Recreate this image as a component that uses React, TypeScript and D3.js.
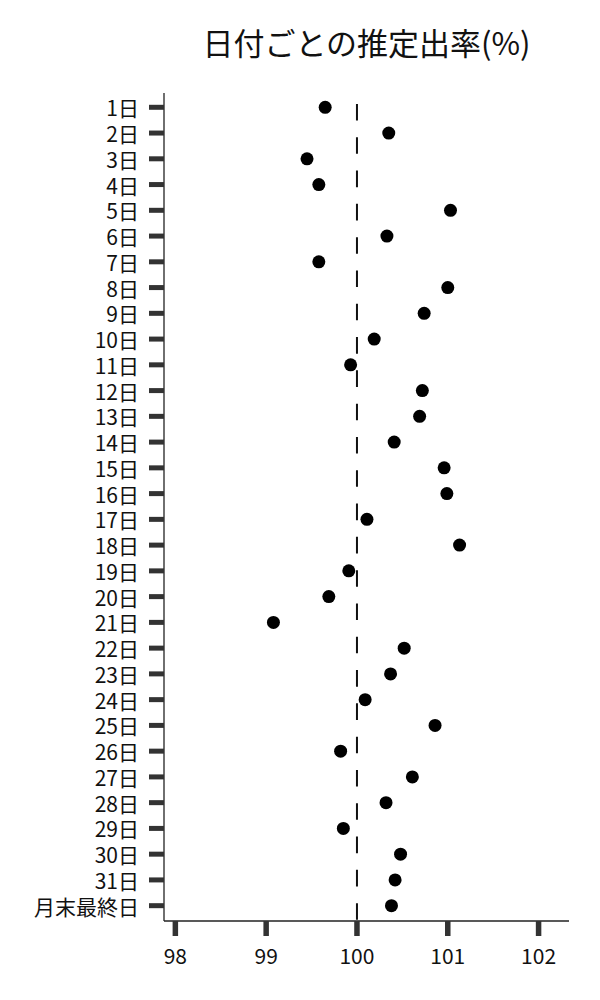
import React from "react";
import * as d3 from "d3";

const categories: string[] = [
  "1日", "2日", "3日", "4日", "5日", "6日", "7日", "8日", "9日", "10日",
  "11日", "12日", "13日", "14日", "15日", "16日", "17日", "18日", "19日", "20日",
  "21日", "22日", "23日", "24日", "25日", "26日", "27日", "28日", "29日", "30日",
  "31日", "月末最終日",
];

const values: number[] = [
  99.65, 100.35, 99.45, 99.58, 101.03, 100.33, 99.58, 101.0, 100.74, 100.19,
  99.93, 100.72, 100.69, 100.41, 100.96, 100.99, 100.11, 101.13, 99.91, 99.69,
  99.08, 100.52, 100.37, 100.09, 100.86, 99.82, 100.61, 100.32, 99.85, 100.48,
  100.42, 100.38,
];

const xTicks: number[] = [98, 99, 100, 101, 102];
const referenceValue = 100;
const title = "日付ごとの推定出率(%)";

const FONT = "'Noto Sans CJK JP', 'Noto Sans', sans-serif";

export default function App() {
  const W = 600;
  const H = 1000;
  const left = 164;
  const right = 569;
  const top = 93;
  const bottom = 921;

  const x = d3.scaleLinear().domain([97.875, 102.335]).range([left, right]);
  const y = d3
    .scaleLinear()
    .domain([-0.555, categories.length - 1 + 0.595])
    .range([top, bottom]);

  const tickColor = "#333";

  return (
    <svg
      width={W}
      height={H}
      style={{ position: "absolute", left: 0, top: 0, background: "#fff" }}
      fontFamily={FONT}
    >
      <text
        x={(left + right) / 2}
        y={55}
        textAnchor="middle"
        fontSize={31}
        fill="#111"
      >
        {title}
      </text>

      {/* reference dashed line */}
      <line
        x1={x(referenceValue)}
        x2={x(referenceValue)}
        y1={y(-0.13)}
        y2={bottom}
        stroke="#111"
        strokeWidth={2}
        strokeDasharray="16.6,16.7"
      />

      {/* points */}
      {values.map((v, i) => (
        <circle key={i} cx={x(v)} cy={y(i)} r={6.5} fill="#000" />
      ))}

      {/* y axis */}
      <line x1={left} x2={left} y1={top} y2={bottom} stroke="#222" strokeWidth={1.3} />
      {categories.map((c, i) => (
        <g key={c}>
          <line
            x1={left - 15}
            x2={left}
            y1={y(i)}
            y2={y(i)}
            stroke={tickColor}
            strokeWidth={5}
          />
          <text
            x={139}
            y={y(i)}
            textAnchor="end"
            dominantBaseline="central"
            fontSize={21}
            fill="#111"
          >
            {c}
          </text>
        </g>
      ))}

      {/* x axis */}
      <line x1={left} x2={right} y1={bottom} y2={bottom} stroke="#222" strokeWidth={1.3} />
      {xTicks.map((t) => (
        <g key={t}>
          <line
            x1={x(t)}
            x2={x(t)}
            y1={bottom}
            y2={bottom + 15}
            stroke={tickColor}
            strokeWidth={5.5}
          />
          <text
            x={x(t)}
            y={964}
            textAnchor="middle"
            fontSize={21}
            fill="#111"
          >
            {t}
          </text>
        </g>
      ))}
    </svg>
  );
}
